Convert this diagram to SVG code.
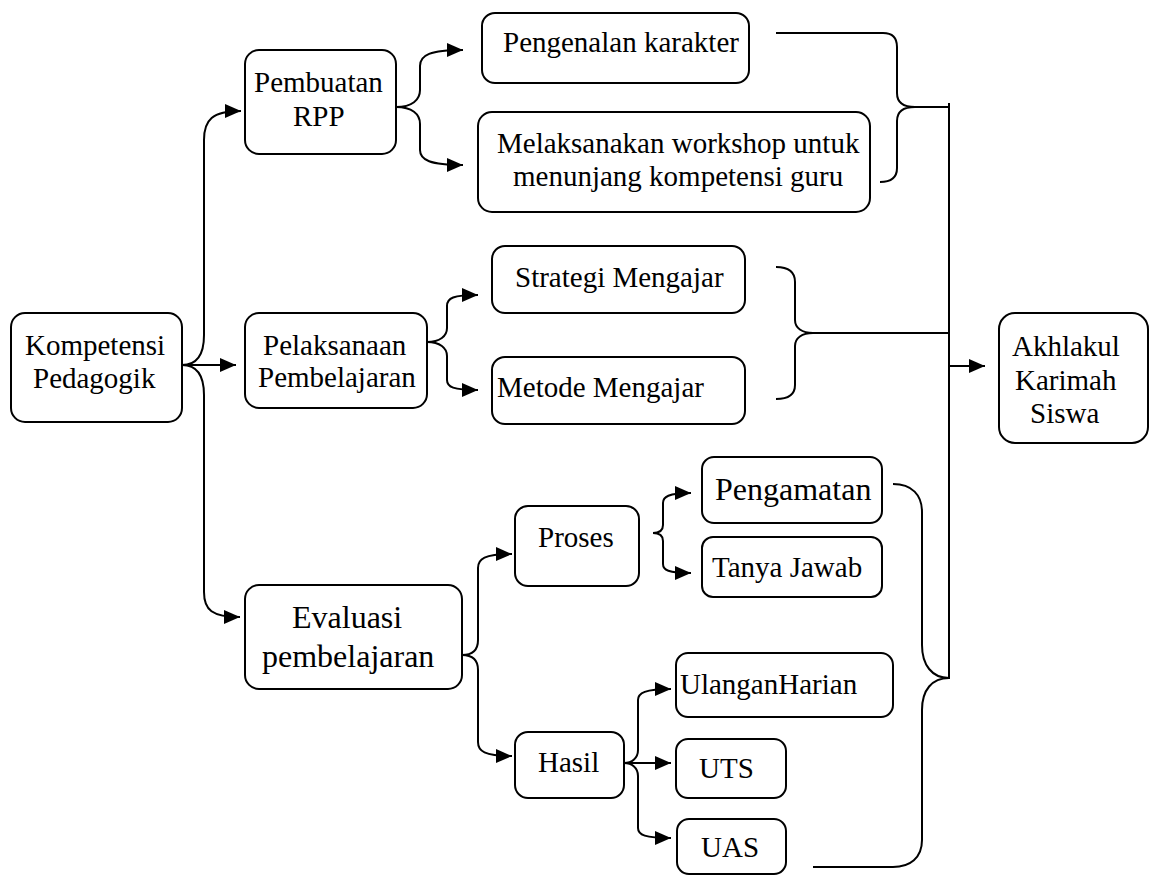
<svg xmlns="http://www.w3.org/2000/svg" width="1150" height="876" viewBox="0 0 1150 876">
<defs>
<marker id="ah" markerUnits="userSpaceOnUse" markerWidth="17" markerHeight="15" refX="16" refY="7" orient="auto">
<path d="M0,0 L16,7 L0,14 z" fill="#000"/>
</marker>
<style>
.box{fill:#fff;stroke:#000;stroke-width:2}
.t{font-family:"Liberation Serif","Times New Roman",serif;font-size:29px;fill:#000}
.big{font-size:32px}
.c{fill:none;stroke:#000;stroke-width:2}
.a{marker-end:url(#ah)}
</style>
</defs>
<rect width="1150" height="876" fill="#fff"/>
<g id="connectors">
<path class="c a" d="M182,365 C196,365 204,355 204,335 L204,140 C204,120 212,111 241,111"/>
<path class="c a" d="M182,365 L236,365"/>
<path class="c a" d="M182,365 C196,365 204,375 204,395 L204,592 C204,610 212,617 240,617"/>
<path class="c a" d="M396,107 C412,107 420,100 420,90 L420,66 C420,55 430,50 463,50"/>
<path class="c a" d="M396,107 C412,107 420,114 420,124 L420,150 C420,160 430,165 463,165"/>
<path class="c a" d="M427,342 C440,342 447,336 447,328 L447,306 C447,298 453,295 478,295"/>
<path class="c a" d="M427,342 C440,342 447,348 447,356 L447,380 C447,387 453,390 478,390"/>
<path class="c a" d="M462,655 C472,655 478,650 478,640 L478,568 C478,559 484,554 512,554"/>
<path class="c a" d="M462,655 C472,655 478,660 478,670 L478,742 C478,751 484,756 512,756"/>
<path class="c a" d="M653,533 C660,533 663,530 663,525 L663,503 C663,497 668,493 691,493"/>
<path class="c a" d="M653,533 C660,533 663,536 663,541 L663,564 C663,570 668,573 691,573"/>
<path class="c a" d="M624,763 C632,763 638,758 638,750 L638,700 C638,693 645,689 671,689"/>
<path class="c a" d="M624,763 L671,763"/>
<path class="c a" d="M624,763 C632,763 638,768 638,776 L638,828 C638,835 645,838 671,838"/>
<path class="c" d="M776,33 L883,33 C892,33 897,38 897,47 L897,93 C897,102 903,107 915,107 C903,107 897,112 897,121 L897,168 C897,177 891,182 880,182"/>
<path class="c" d="M915,107 L949,107"/>
<path class="c" d="M776,267 C789,267 795,272 795,282 L795,320 C795,328 802,333 813,333 C802,333 795,338 795,346 L795,385 C795,394 789,399 776,399"/>
<path class="c" d="M813,333 L949,333"/>
<path class="c" d="M893,484 C912,484 922,495 922,512 L922,645 C922,665 932,678 949,678 C932,678 922,690 922,710 L922,840 C922,858 910,867 893,867 L813,867"/>
<path class="c" d="M949,103 L949,679"/>
<path class="c a" d="M949,366 L985,366"/>
</g>
<g id="n-kompetensi"><rect class="box" x="11" y="313" width="171" height="109" rx="14"/><text class="t" x="25" y="355">Kompetensi</text><text class="t" x="33" y="388">Pedagogik</text></g>
<g id="n-pembuatan"><rect class="box" x="245" y="50" width="151" height="104" rx="14"/><text class="t" x="254" y="92">Pembuatan</text><text class="t" x="293" y="126">RPP</text></g>
<g id="n-pelaksanaan"><rect class="box" x="245" y="313" width="182" height="95" rx="14"/><text class="t" x="263" y="355">Pelaksanaan</text><text class="t" x="258" y="387">Pembelajaran</text></g>
<g id="n-evaluasi"><rect class="box" x="245" y="585" width="217" height="104" rx="14"/><text class="t big" x="292" y="628">Evaluasi</text><text class="t big" x="262" y="667">pembelajaran</text></g>
<g id="n-pengenalan"><rect class="box" x="482" y="13" width="267" height="70" rx="13"/><text class="t" x="503" y="52">Pengenalan karakter</text></g>
<g id="n-workshop"><rect class="box" x="478" y="112" width="392" height="100" rx="14"/><text class="t" x="497" y="153">Melaksanakan workshop untuk</text><text class="t" x="513" y="186">menunjang kompetensi guru</text></g>
<g id="n-strategi"><rect class="box" x="492" y="246" width="253" height="67" rx="13"/><text class="t" x="515" y="287">Strategi Mengajar</text></g>
<g id="n-metode"><rect class="box" x="492" y="357" width="253" height="67" rx="13"/><text class="t" x="497" y="397">Metode Mengajar</text></g>
<g id="n-proses"><rect class="box" x="515" y="506" width="124" height="80" rx="13"/><text class="t" x="538" y="547">Proses</text></g>
<g id="n-hasil"><rect class="box" x="515" y="732" width="109" height="66" rx="13"/><text class="t" x="538" y="772">Hasil</text></g>
<g id="n-pengamatan"><rect class="box" x="702" y="457" width="180" height="66" rx="12"/><text class="t big" x="715" y="500">Pengamatan</text></g>
<g id="n-tanya"><rect class="box" x="702" y="537" width="180" height="60" rx="11"/><text class="t" x="712" y="577">Tanya Jawab</text></g>
<g id="n-ulangan"><rect class="box" x="676" y="653" width="217" height="64" rx="12"/><text class="t" x="680" y="694">UlanganHarian</text></g>
<g id="n-uts"><rect class="box" x="676" y="739" width="110" height="59" rx="12"/><text class="t" x="699" y="778">UTS</text></g>
<g id="n-uas"><rect class="box" x="677" y="819" width="109" height="55" rx="12"/><text class="t" x="701" y="857">UAS</text></g>
<g id="n-akhlakul"><rect class="box" x="999" y="313" width="149" height="130" rx="16"/><text class="t" x="1012" y="356">Akhlakul</text><text class="t" x="1015" y="390">Karimah</text><text class="t" x="1030" y="423">Siswa</text></g>
</svg>
